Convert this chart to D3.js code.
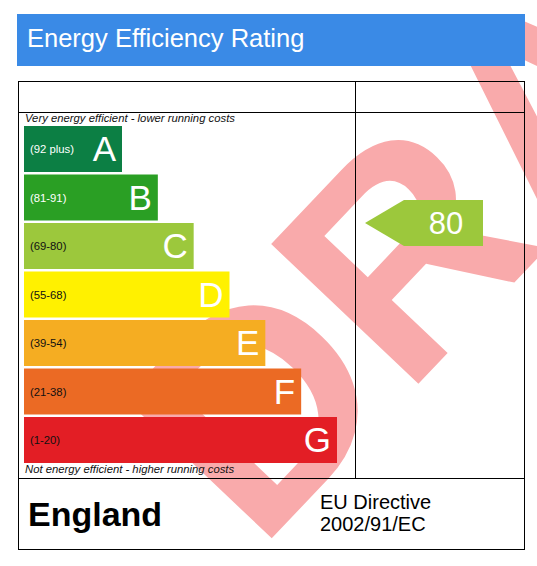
<!DOCTYPE html>
<html><head><meta charset="utf-8">
<script src="https://cdn.jsdelivr.net/npm/d3@7"></script>
<style>html,body{margin:0;padding:0;background:#fff;}svg{display:block;}</style>
</head><body>
<script>
// ---- data ----
const title = "Energy Efficiency Rating";
const bands = ["A","B","C","D","E","F","G"];
const rangeLabels = ["(92 plus)","(81-91)","(69-80)","(55-68)","(39-54)","(21-38)","(1-20)"];
const bandMin = [92,81,69,55,39,21,1];
const bandMax = [100,91,80,68,54,38,20];
const bandColors = ["#0c7f44","#2a9f24","#9cc83c","#fff100","#f5ad22","#eb6a24","#e31e25"];
const rangeTextColors = ["#ffffff","#ffffff","#111111","#111111","#111111","#111111","#111111"];
const currentRating = 80;
const topNote = "Very energy efficient - lower running costs";
const bottomNote = "Not energy efficient - higher running costs";
const region = "England";
const directive = ["EU Directive","2002/91/EC"];
const watermark = "DRAFT";

const W = 537, H = 566;
const svg = d3.select("body").append("svg").attr("width", W).attr("height", H)
  .style("font-family", "'Liberation Sans', Arial, sans-serif");

svg.append("defs").append("clipPath").attr("id", "wmclip")
  .append("rect").attr("x", 0).attr("y", 14).attr("width", W).attr("height", H - 14);

// watermark (behind everything), rotated along the picture diagonal
const wmSize = 295, wmAngle = -Math.atan(H / W) * 180 / Math.PI;
const ar = wmAngle * Math.PI / 180, lsb = 0.073 * wmSize;
const wmX = 273 - lsb * Math.cos(ar), wmY = 537 - lsb * Math.sin(ar);
svg.append("g").attr("clip-path", "url(#wmclip)").append("text")
  .attr("transform", `translate(${wmX},${wmY}) rotate(${wmAngle})`)
  .attr("font-size", wmSize).attr("font-weight", "bold")
  .attr("fill", "#f9aaab")
  .text(watermark);

// header
svg.append("rect").attr("x", 17).attr("y", 14).attr("width", 508).attr("height", 52).attr("fill", "#3a8ae6");
svg.append("text").attr("x", 27).attr("y", 47).attr("font-size", 25.5).attr("fill", "#fff").text(title);

// table lines
const g = svg.append("g").attr("stroke", "#000").attr("stroke-width", 1).attr("shape-rendering", "crispEdges");
g.append("rect").attr("x", 18.5).attr("y", 81.5).attr("width", 506).attr("height", 468).attr("fill", "none");
g.append("line").attr("x1", 18.5).attr("x2", 524.5).attr("y1", 112.5).attr("y2", 112.5);
g.append("line").attr("x1", 18.5).attr("x2", 524.5).attr("y1", 478.5).attr("y2", 478.5);
g.append("line").attr("x1", 355.5).attr("x2", 355.5).attr("y1", 81.5).attr("y2", 478.5);

// scales
const y = d3.scaleBand().domain(bands).range([124.75, 124.75 + 7 * 48.5]).paddingInner(0.0515).paddingOuter(0.02575);
const xEnd = d3.scaleLinear().domain([0, 6]).range([122, 337]);
const x0 = 24;

const bar = svg.append("g").selectAll("g").data(bands).join("g");
bar.append("rect")
  .attr("x", x0).attr("y", d => y(d))
  .attr("width", (d, i) => xEnd(i) - x0).attr("height", y.bandwidth())
  .attr("fill", (d, i) => bandColors[i]);
bar.append("text")
  .attr("x", 30).attr("y", d => y(d) + y.bandwidth() / 2 + 4)
  .attr("font-size", 11.3).attr("fill", (d, i) => rangeTextColors[i])
  .text((d, i) => rangeLabels[i]);
bar.append("text")
  .attr("x", (d, i) => xEnd(i) - 6).attr("y", d => y(d) + y.bandwidth() / 2 + 12)
  .attr("text-anchor", "end").attr("font-size", 35).attr("fill", "#fff")
  .text(d => d);

svg.append("text").attr("x", 25).attr("y", 122).attr("font-size", 11.3).attr("font-style", "italic").attr("fill", "#111").text(topNote);
svg.append("text").attr("x", 25).attr("y", 473).attr("font-size", 11.3).attr("font-style", "italic").attr("fill", "#111").text(bottomNote);

// rating arrow
const bi = bands.findIndex((b, i) => currentRating >= bandMin[i] && currentRating <= bandMax[i]);
const yVal = y(bands[bi]) + (bandMax[bi] - currentRating) / (bandMax[bi] - bandMin[bi] + 1) * y.bandwidth();
const ah = y.bandwidth();
const tipX = 365, bodyX = 404, rightX = 483;
svg.append("path")
  .attr("d", d3.line()([[tipX, yVal], [bodyX, yVal - ah / 2], [rightX, yVal - ah / 2], [rightX, yVal + ah / 2], [bodyX, yVal + ah / 2]]) + "Z")
  .attr("fill", bandColors[bi]);
svg.append("text").attr("x", 446).attr("y", yVal + 11).attr("text-anchor", "middle")
  .attr("font-size", 31).attr("fill", "#fff").text(currentRating);

// footer
svg.append("text").attr("x", 28).attr("y", 526).attr("font-size", 34).attr("font-weight", "bold").attr("fill", "#000").text(region);
svg.append("text").attr("x", 320).attr("y", 509).attr("font-size", 20).attr("fill", "#000").text(directive[0]);
svg.append("text").attr("x", 320).attr("y", 531).attr("font-size", 20).attr("fill", "#000").text(directive[1]);
</script>
</body></html>
